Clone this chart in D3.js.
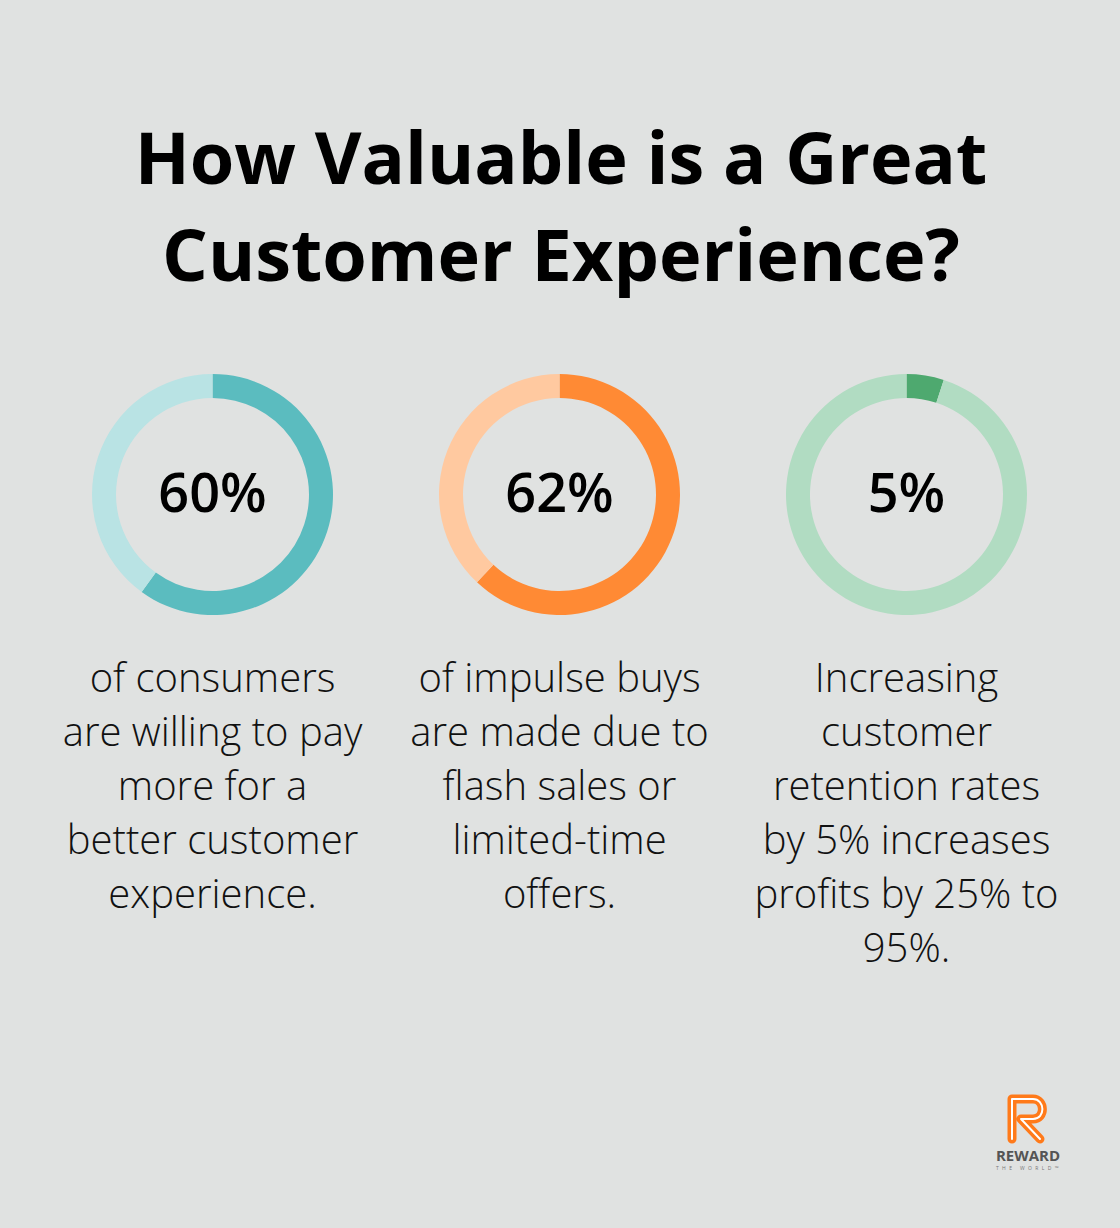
<!DOCTYPE html>
<html>
<head>
<meta charset="utf-8">
<script src="https://cdn.jsdelivr.net/npm/d3@7"></script>
<style>
  html, body { margin: 0; padding: 0; background: #e0e2e1; }
  svg { display: block; }
</style>
</head>
<body>
<svg id="chart" width="1120" height="1228"></svg>
<script>
const titleLines = ["How Valuable is a Great", "Customer Experience?"];
const labels = ["60%", "62%", "5%"];
const values = [60, 62, 5];
const descriptions = [
  ["of consumers", "are willing to pay", "more for a", "better customer", "experience."],
  ["of impulse buys", "are made due to", "flash sales or", "limited-time", "offers."],
  ["Increasing", "customer", "retention rates", "by 5% increases", "profits by 25% to", "95%."]
];
const mainColors = ["#5bbcbf", "#ff8a34", "#4ea96f"];
const lightColors = ["#b9e3e4", "#ffc9a0", "#b1dcc2"];

const svg = d3.select("#chart");
svg.append("rect").attr("width", 1120).attr("height", 1228).attr("fill", "#e0e2e1");

// Title
svg.append("g").selectAll("text").data(titleLines).join("text")
  .attr("x", 561)
  .attr("y", (d, i) => 184 + i * 97)
  .attr("text-anchor", "middle")
  .attr("font-family", "'Open Sans', sans-serif")
  .attr("font-weight", 700)
  .attr("font-size", 72)
  .attr("fill", "#000")
  .text(d => d);

const x = d3.scalePoint().domain(d3.range(values.length)).range([212.5, 906.5]);
const cy = 494.5;
const pie = d3.pie().sort(null).value(d => d);
const arc = d3.arc().innerRadius(96.5).outerRadius(120.5);

const groups = svg.append("g").selectAll("g").data(values).join("g")
  .attr("transform", (d, i) => `translate(${x(i)},${cy})`);

groups.each(function(v, i) {
  const g = d3.select(this);
  g.selectAll("path").data(pie([v, 100 - v])).join("path")
    .attr("d", arc)
    .attr("fill", (d, j) => j === 0 ? mainColors[i] : lightColors[i]);
  g.append("text")
    .attr("x", 0).attr("y", 17)
    .attr("text-anchor", "middle")
    .attr("font-family", "'Open Sans', sans-serif")
    .attr("font-weight", 600)
    .attr("font-size", 54)
    .attr("fill", "#000")
    .text(labels[i]);
});

// Descriptions
const desc = svg.append("g").selectAll("g").data(descriptions).join("g");
desc.each(function(lines, i) {
  d3.select(this).selectAll("text").data(lines).join("text")
    .attr("x", x(i))
    .attr("y", (d, j) => 692 + j * 54)
    .attr("text-anchor", "middle")
    .attr("font-family", "'Open Sans', sans-serif")
    .attr("font-weight", 300)
    .attr("font-size", 40)
    .attr("fill", "#111")
    .text(d => d);
});

// Logo
const logo = svg.append("g").attr("transform", "translate(1007,1094)");
const rPath = "M5,45 L5,5 L26,5 C38,5 39,25 26,25 L14,25 L33,45";
logo.append("path").attr("d", rPath)
  .attr("fill", "none").attr("stroke", "#ff7a1a").attr("stroke-width", 9)
  .attr("stroke-linejoin", "round").attr("stroke-linecap", "round");
logo.append("path").attr("d", rPath)
  .attr("fill", "none").attr("stroke", "#fff").attr("stroke-width", 2)
  .attr("stroke-linejoin", "round").attr("stroke-linecap", "round");
svg.append("text").attr("x", 1028).attr("y", 1161)
  .attr("text-anchor", "middle")
  .attr("font-family", "'Open Sans', sans-serif").attr("font-weight", 700)
  .attr("font-size", 15).attr("fill", "#555").text("REWARD");
svg.append("text").attr("x", 1029).attr("y", 1170)
  .attr("text-anchor", "middle")
  .attr("font-family", "'Open Sans', sans-serif").attr("font-weight", 400)
  .attr("font-size", 5).attr("letter-spacing", 3.4).attr("fill", "#777").text("THE WORLD™");
</script>
</body>
</html>
